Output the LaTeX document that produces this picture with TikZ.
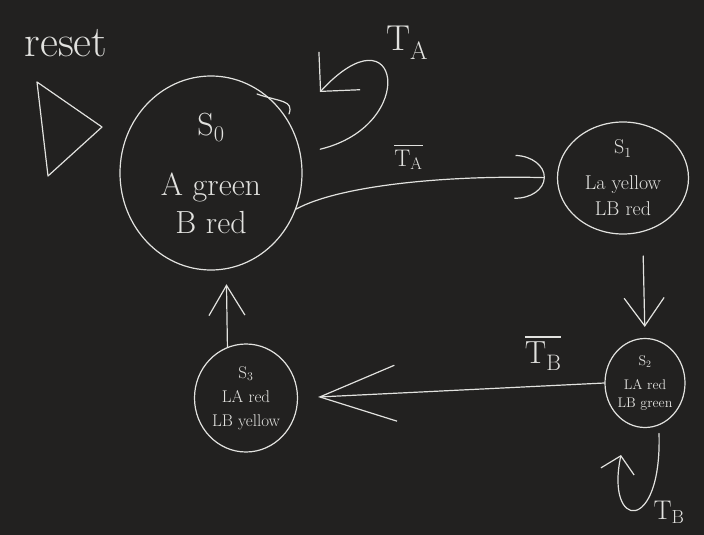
\documentclass[tikz,border=0pt]{standalone}
\usetikzlibrary{shapes.geometric,arrows.meta}
\definecolor{board}{RGB}{34,33,32}
\definecolor{chalk}{RGB}{226,226,223}
\newcommand\barlabel[1]{\vbox{\hrule height 1.2pt\kern4pt\hbox{#1}}}
\begin{document}
\begin{tikzpicture}[x=1pt, y=-1pt, line cap=round, line join=round, >=stealth, color=chalk]
	\tikzset{state/.style={draw, ellipse, line width=1.2pt, inner sep=0pt, align=center},
		conn/.style={line width=1.2pt},
		big/.style={font=\fontsize{#1}{#1}\selectfont}}
	\fill[board] (0,0) rectangle (704,535);
	\useasboundingbox (0,0) rectangle (704,535);
	% states
	\node[state, minimum width=182pt, minimum height=194pt, font=\fontsize{32}{38}\selectfont] (s0) at (211,173) {S\textsubscript{0}\\[22pt]A green\\B red};
	\node[state, minimum width=131pt, minimum height=112pt, font=\fontsize{20}{26}\selectfont] (s1) at (623,178) {S\textsubscript{1}\\[10pt]La yellow\\LB red};
	\node[state, minimum width=80pt, minimum height=89pt, font=\fontsize{14}{18}\selectfont] (s2) at (645,383) {S\textsubscript{2}\\[6pt]LA red\\LB green};
	\node[state, minimum width=103pt, minimum height=108pt, font=\fontsize{17}{24}\selectfont] (s3) at (246,398) {S\textsubscript{3}\\LA red\\LB yellow};
	% reset
	\node[big=44] (rst) at (66,43) {reset};
	\draw[conn] (37,82) -- (102,127) -- (48,176) -- cycle;
	% transitions
	\coordinate (ta) at (320,92);
	\coordinate (tb) at (621,455);
	\draw[conn] (257,94) .. controls (280,102) and (294,100) .. (289,114);
	\draw[conn, -{Straight Barb[length=28pt,width=56pt]}, shorten <=20pt] (s0.12) .. controls (420,125) and (400,5) .. (ta) node[pos=0.6, above right, yshift=4pt, big=36] {T\textsubscript{A}};
	\draw[conn, -{Arc Barb[length=30pt,width=44pt]}, shorten >=12pt] (s0.-23) .. controls (340,185) and (450,175) .. (s1.west) node[pos=0.52, above=9pt, big=24] {\barlabel{T\textsubscript{A}}};
	\draw[conn, -{Straight Barb[length=28pt,width=40pt]}, shorten <=24pt, shorten >=11pt] (s1.-70) -- (s2.north);
	\draw[conn, -{Straight Barb[length=30pt,width=36pt]}, shorten >=15pt] (s3.110) -- (s0.-81);
	\draw[conn, -{Straight Barb[length=76pt,width=56pt]}, shorten >=20pt] (s2.west) -- (s3.east) node[pos=0.2, above=12pt, big=32] {\barlabel{T\textsubscript{B}}};
	\draw[conn, -{Straight Barb[length=16pt,width=34pt]}, shorten <=8pt] (s2.-72) .. controls (662,535) and (605,530) .. (tb) node[pos=0.38, below right, xshift=6pt, yshift=6pt, big=27] {T\textsubscript{B}};
\end{tikzpicture}
\end{document}
